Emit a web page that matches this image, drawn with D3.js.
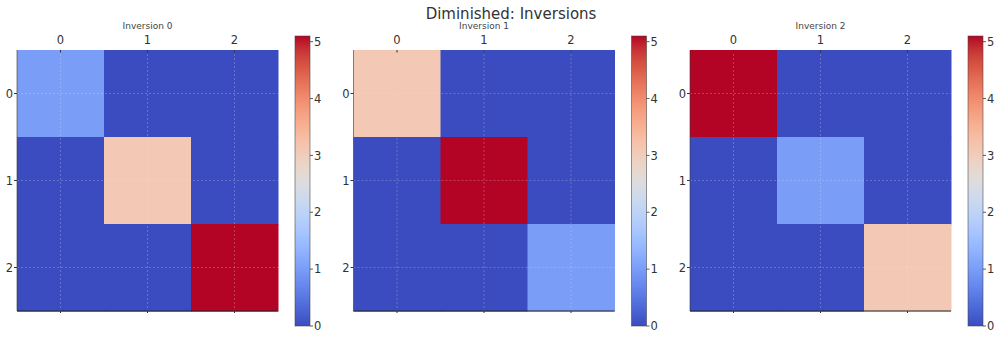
<!DOCTYPE html>
<html>
<head>
<meta charset="utf-8">
<script src="https://cdn.jsdelivr.net/npm/d3@7"></script>
<style>
  html, body { margin: 0; padding: 0; background: #fff; }
  svg { display: block; font-family: "DejaVu Sans", sans-serif; }
</style>
</head>
<body>
<svg id="chart" width="1000" height="340"></svg>
<script>
// ---- data ----
const chartTitle = "Diminished: Inversions";
const panelTitles = ["Inversion 0", "Inversion 1", "Inversion 2"];
const rowLabels = ["0", "1", "2"];
const colLabels = ["0", "1", "2"];
// 3x3 matrices, one per inversion (row-major)
const inversion0 = [[1.0, 0, 0], [0, 3.1, 0], [0, 0, 5.1]];
const inversion1 = [[3.1, 0, 0], [0, 5.1, 0], [0, 0, 1.0]];
const inversion2 = [[5.1, 0, 0], [0, 1.0, 0], [0, 0, 3.1]];
const matrices = [inversion0, inversion1, inversion2];
const colorbarTicks = [0, 1, 2, 3, 4, 5];
const valueMin = 0, valueMax = 5.1;

// ---- coolwarm colormap (33 control points) ----
const coolwarm = [
  [59,76,192],[68,90,204],[77,104,215],[87,117,225],[98,130,234],[108,142,241],
  [119,154,247],[130,165,251],[141,176,254],[152,185,255],[163,194,255],[174,201,253],
  [184,208,249],[194,213,244],[204,217,238],[213,219,230],[221,221,221],[229,216,209],
  [236,211,197],[241,204,185],[245,196,173],[247,187,160],[247,177,148],[247,166,135],
  [244,154,123],[241,141,111],[236,127,99],[229,112,88],[222,96,77],[213,80,66],
  [203,62,56],[192,40,47],[180,4,38]
].map(c => d3.rgb(c[0], c[1], c[2]).toString());
const interp = d3.interpolateRgbBasis(coolwarm);
const color = d3.scaleSequential(interp).domain([valueMin, valueMax]);

const svg = d3.select("#chart");

// gradient for colorbars
const defs = svg.append("defs");
const grad = defs.append("linearGradient")
  .attr("id", "cbgrad").attr("x1", 0).attr("y1", 1).attr("x2", 0).attr("y2", 0);
d3.range(0, 1.0001, 0.02).forEach(t => {
  grad.append("stop").attr("offset", t).attr("stop-color", interp(t));
});

// ---- layout ----
const panelLeft = [17, 353.5, 690];
const plotTop = 50, plotSize = 261;
const cbOffset = 278, cbWidth = 15;
const cbTop = 36, cbBottom = 326;

svg.append("text")
  .attr("x", 511).attr("y", 19)
  .attr("text-anchor", "middle")
  .attr("font-size", 15).attr("fill", "#333")
  .text(chartTitle);

matrices.forEach((mat, p) => {
  const left = panelLeft[p];
  const g = svg.append("g");
  const x = d3.scaleBand().domain(colLabels).range([left, left + plotSize]);
  const y = d3.scaleBand().domain(rowLabels).range([plotTop, plotTop + plotSize]);

  // cells
  const cells = [];
  mat.forEach((row, r) => row.forEach((v, c) => cells.push({ r: rowLabels[r], c: colLabels[c], v })));
  g.selectAll("rect.cell").data(cells).join("rect")
    .attr("class", "cell")
    .attr("x", d => x(d.c)).attr("y", d => y(d.r))
    .attr("width", x.bandwidth() + 0.5).attr("height", y.bandwidth() + 0.5)
    .attr("fill", d => color(d.v));

  // dashed grid at tick centres
  const cx = c => x(c) + x.bandwidth() / 2;
  const cy = r => y(r) + y.bandwidth() / 2;
  g.selectAll("line.gx").data(colLabels).join("line")
    .attr("x1", cx).attr("x2", cx)
    .attr("y1", plotTop).attr("y2", plotTop + plotSize)
    .attr("stroke", "#e8e8e8").attr("stroke-opacity", 0.32)
    .attr("stroke-width", 0.8).attr("stroke-dasharray", "2,2");
  g.selectAll("line.gy").data(rowLabels).join("line")
    .attr("y1", cy).attr("y2", cy)
    .attr("x1", left).attr("x2", left + plotSize)
    .attr("stroke", "#e8e8e8").attr("stroke-opacity", 0.32)
    .attr("stroke-width", 0.8).attr("stroke-dasharray", "2,2");

  // spines: left and bottom
  g.append("line").attr("x1", left).attr("x2", left)
    .attr("y1", plotTop).attr("y2", plotTop + plotSize)
    .attr("stroke", "#333").attr("stroke-opacity", 0.6).attr("stroke-width", 1);
  g.append("line").attr("x1", left).attr("x2", left + plotSize)
    .attr("y1", plotTop + plotSize).attr("y2", plotTop + plotSize)
    .attr("stroke", "#222").attr("stroke-width", 1.2);

  // top ticks (inward) and labels
  g.selectAll("line.tt").data(colLabels).join("line")
    .attr("x1", cx).attr("x2", cx).attr("y1", plotTop).attr("y2", plotTop + 2.5)
    .attr("stroke", "#333").attr("stroke-width", 1);
  g.selectAll("line.bt").data(colLabels).join("line")
    .attr("x1", cx).attr("x2", cx).attr("y1", plotTop + plotSize).attr("y2", plotTop + plotSize + 2)
    .attr("stroke", "#333").attr("stroke-width", 1);
  g.selectAll("text.tl").data(colLabels).join("text")
    .attr("x", cx).attr("y", plotTop - 6)
    .attr("text-anchor", "middle").attr("font-size", 11.5).attr("fill", "#333")
    .text(d => d);

  // left ticks and labels
  g.selectAll("line.lt").data(rowLabels).join("line")
    .attr("x1", left - 3).attr("x2", left).attr("y1", cy).attr("y2", cy)
    .attr("stroke", "#333").attr("stroke-width", 1);
  g.selectAll("text.ll").data(rowLabels).join("text")
    .attr("x", left - 4).attr("y", cy).attr("dy", "0.36em")
    .attr("text-anchor", "end").attr("font-size", 11.5).attr("fill", "#333")
    .text(d => d);

  // panel title
  g.append("text")
    .attr("x", left + plotSize / 2).attr("y", 29)
    .attr("text-anchor", "middle").attr("font-size", 9).attr("fill", "#444")
    .text(panelTitles[p]);

  // colorbar
  const cbx = left + cbOffset;
  const cbScale = d3.scaleLinear().domain([valueMin, valueMax]).range([cbBottom, cbTop]);
  g.append("rect")
    .attr("x", cbx).attr("y", cbScale(valueMax))
    .attr("width", cbWidth).attr("height", cbScale(valueMin) - cbScale(valueMax))
    .attr("fill", "url(#cbgrad)")
    .attr("stroke", "#444").attr("stroke-opacity", 0.7).attr("stroke-width", 0.8);
  g.selectAll("line.ct").data(colorbarTicks).join("line")
    .attr("x1", cbx + cbWidth).attr("x2", cbx + cbWidth + 3)
    .attr("y1", d => cbScale(d)).attr("y2", d => cbScale(d))
    .attr("stroke", "#333").attr("stroke-width", 0.8);
  g.selectAll("text.cl").data(colorbarTicks).join("text")
    .attr("x", cbx + cbWidth + 4).attr("y", d => cbScale(d)).attr("dy", "0.36em")
    .attr("font-size", 11.5).attr("fill", "#333")
    .text(d => d);
});
</script>
</body>
</html>
